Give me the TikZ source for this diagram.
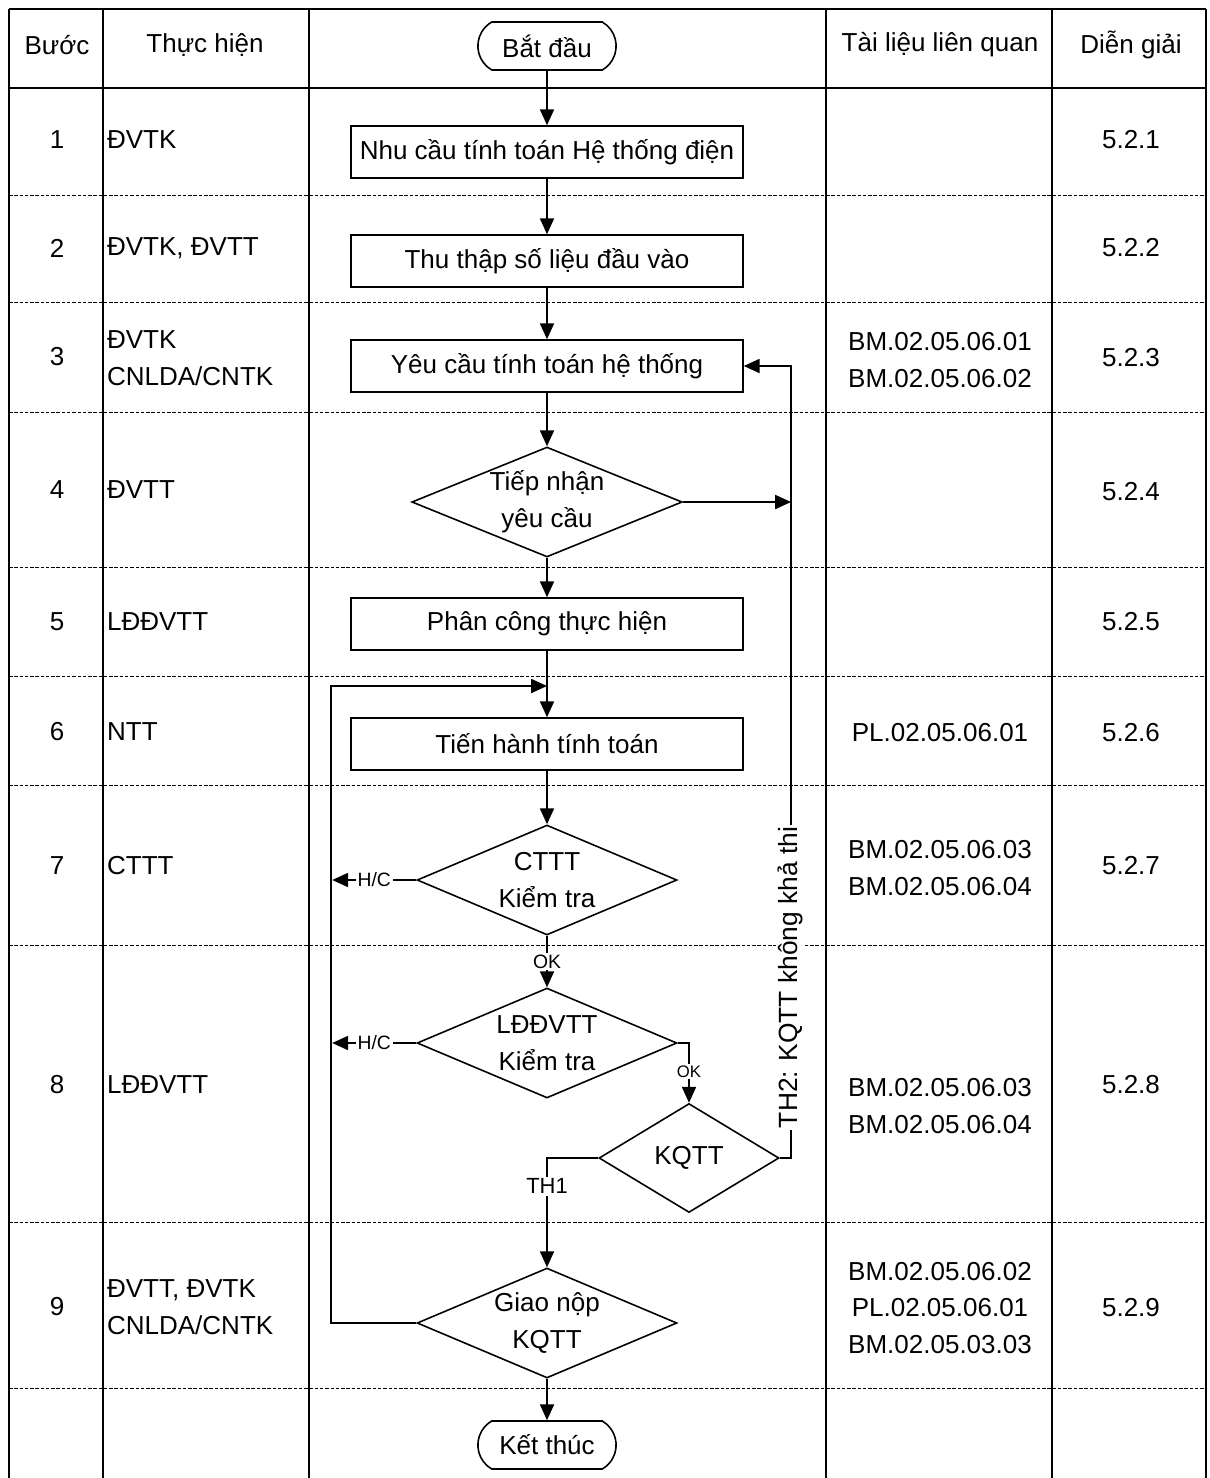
\documentclass[tikz,border=0pt]{standalone}
\usepackage{fontspec}
\setmainfont{Liberation Sans}
\usetikzlibrary{shapes,arrows.meta}

\begin{document}
\begin{tikzpicture}[x=0.02cm,y=-0.02cm]
\tikzstyle{every node}=[font=\fontsize{14.8}{21}\selectfont];
\tikzstyle{proc}=[draw,line width=0.9pt,minimum width=7.84cm,minimum height=1.04cm,inner sep=0pt];
\tikzstyle{dec}=[draw,diamond,aspect=2.5,line width=0.9pt,minimum width=5.2cm,minimum height=2.2cm,inner sep=0pt,align=center];
\tikzstyle{term}=[draw,rounded rectangle,rounded rectangle arc length=120,line width=0.9pt,minimum width=3cm,minimum height=0.96cm];
\tikzstyle{dir}=[-{Triangle[length=9pt,width=8pt]},line width=0.9pt];
\tikzstyle{tag}=[fill=white,inner sep=1pt,font=\fontsize{11}{13}\selectfont];
\tikzstyle{grid}=[line width=0.9pt];
\tikzstyle{sep}=[line width=0.5pt,dash pattern=on 2pt off 1pt];
\tikzstyle{who}=[anchor=west,align=left,inner xsep=1pt];
\tikzstyle{doc}=[align=center];
\useasboundingbox (0,0) rectangle (1210,1478);
% table
\draw [grid] (9,9) -- (1206,9);
\draw [grid] (9,88) -- (1206,88);
\draw [grid] (9,9) -- (9,1478);
\draw [grid] (103,9) -- (103,1478);
\draw [grid] (309,9) -- (309,1478);
\draw [grid] (826,9) -- (826,1478);
\draw [grid] (1052,9) -- (1052,1478);
\draw [grid] (1206,9) -- (1206,1478);
\draw [sep] (9,195) -- (1206,195);
\draw [sep] (9,302) -- (1206,302);
\draw [sep] (9,412) -- (1206,412);
\draw [sep] (9,567) -- (1206,567);
\draw [sep] (9,676) -- (1206,676);
\draw [sep] (9,785) -- (1206,785);
\draw [sep] (9,945) -- (1206,945);
\draw [sep] (9,1222) -- (1206,1222);
\draw [sep] (9,1388) -- (1206,1388);
% header
\node (h1) at (57,45) {Bước};
\node (h2) at (205,45) {Thực hiện};
\node (h3) at (940,45) {Tài liệu liên quan};
\node (h4) at (1131,45) {Diễn giải};
% step numbers
\node (n1) at (57,140) {1};
\node (n2) at (57,248) {2};
\node (n3) at (57,357) {3};
\node (n4) at (57,490) {4};
\node (n5) at (57,622) {5};
\node (n6) at (57,732) {6};
\node (n7) at (57,866) {7};
\node (n8) at (57,1085) {8};
\node (n9) at (57,1307) {9};
% who
\node [who] (w1) at (105,140) {ĐVTK};
\node [who] (w2) at (105,248) {ĐVTK, ĐVTT};
\node [who] (w3) at (105,358) {ĐVTK\\CNLDA/CNTK};
\node [who] (w4) at (105,490) {ĐVTT};
\node [who] (w5) at (105,622) {LĐĐVTT};
\node [who] (w6) at (105,732) {NTT};
\node [who] (w7) at (105,866) {CTTT};
\node [who] (w8) at (105,1085) {LĐĐVTT};
\node [who] (w9) at (105,1307) {ĐVTT, ĐVTK\\CNLDA/CNTK};
% documents
\node [doc] (d3) at (940,360) {BM.02.05.06.01\\BM.02.05.06.02};
\node [doc] (d6) at (940,733) {PL.02.05.06.01};
\node [doc] (d7) at (940,868) {BM.02.05.06.03\\BM.02.05.06.04};
\node [doc] (d8) at (940,1106) {BM.02.05.06.03\\BM.02.05.06.04};
\node [doc] (d9) at (940,1308) {BM.02.05.06.02\\PL.02.05.06.01\\BM.02.05.03.03};
% sections
\node (g1) at (1131,140) {5.2.1};
\node (g2) at (1131,248) {5.2.2};
\node (g3) at (1131,358) {5.2.3};
\node (g4) at (1131,492) {5.2.4};
\node (g5) at (1131,622) {5.2.5};
\node (g6) at (1131,733) {5.2.6};
\node (g7) at (1131,866) {5.2.7};
\node (g8) at (1131,1085) {5.2.8};
\node (g9) at (1131,1308) {5.2.9};
% flow
\node [term] (v0) at (547,46) {Bắt đầu};
\node [proc] (v1) at (547,152) {Nhu cầu tính toán Hệ thống điện};
\node [proc] (v2) at (547,261) {Thu thập số liệu đầu vào};
\node [proc] (v3) at (547,366) {Yêu cầu tính toán hệ thống};
\node [dec] (v4) at (547,502) {Tiếp nhận\\yêu cầu};
\node [proc] (v5) at (547,624) {Phân công thực hiện};
\node [proc] (v6) at (547,744) {Tiến hành tính toán};
\node [dec] (v7) at (547,880) {CTTT\\Kiểm tra};
\node [dec] (v8) at (547,1043) {LĐĐVTT\\Kiểm tra};
\node [dec,minimum width=3.6cm,minimum height=2.18cm] (v9) at (689,1158) {KQTT};
\node [dec] (v10) at (547,1323) {Giao nộp\\KQTT};
\node [term] (v11) at (547,1445) {Kết thúc};
\coordinate (c1) at (791,502);
\coordinate (c2) at (547,686);
\draw [dir] (v0) edge (v1);
\draw [dir] (v1) edge (v2);
\draw [dir] (v2) edge (v3);
\draw [dir] (v3) edge (v4);
\draw [dir] (v4) edge (v5);
\draw [dir] (v5) edge (v6);
\draw [dir] (v6) edge (v7);
\draw [dir] (v7) -- node[tag] {OK} (v8);
\draw [dir] (v8.east) -| node[tag,pos=0.74,font=\fontsize{9.5}{11}\selectfont] {OK} (v9.north);
\draw [dir] (v9.west) -| node[tag,pos=0.63,font=\fontsize{12.5}{14}\selectfont] {TH1} (v10.north);
\draw [dir] (v9.east) -- ++(11,0) |- node[tag,pos=0.114,rotate=90,font=\fontsize{15}{17}\selectfont] {TH2: KQTT không khả thi} (v3.east);
\draw [dir] (v4.east) -- (c1);
\draw [dir] (v7.west) -- node[tag] {H/C} ++(-84,0);
\draw [dir] (v8.west) -- node[tag] {H/C} ++(-84,0);
\draw [dir] (v10.west) -- ++(-85,0) |- (c2);
\draw [dir] (v10) edge (v11);
\end{tikzpicture}
\end{document}
